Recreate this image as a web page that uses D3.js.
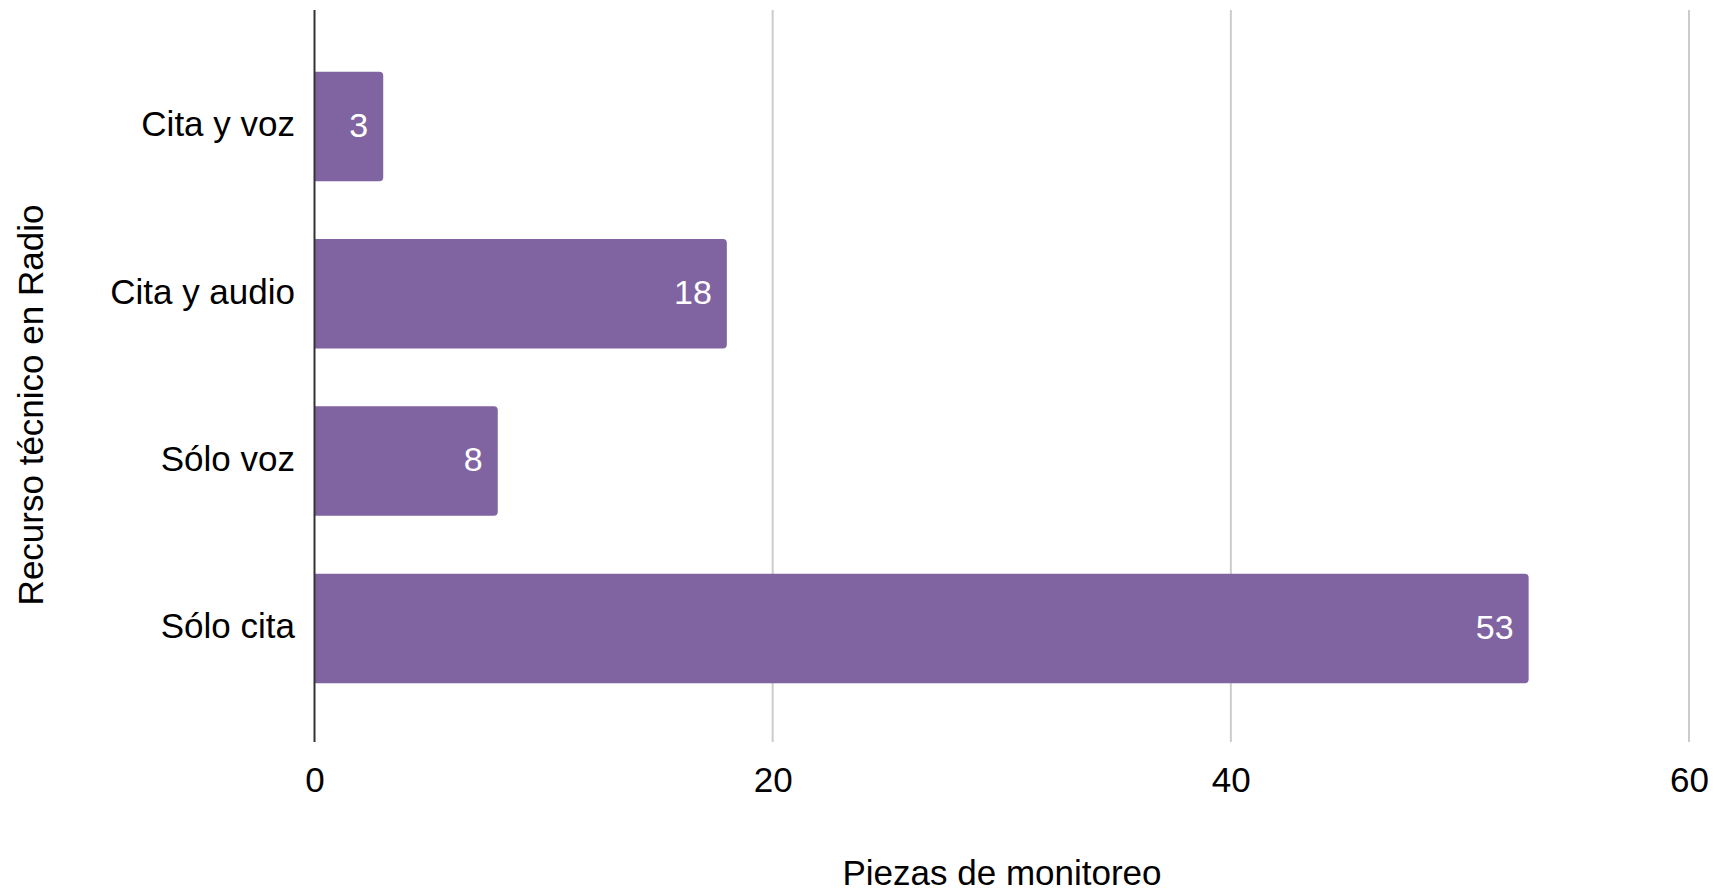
<!DOCTYPE html>
<html>
<head>
<meta charset="utf-8">
<script src="https://cdn.jsdelivr.net/npm/d3@7"></script>
<style>
  html, body { margin: 0; padding: 0; background: #ffffff; }
  svg { display: block; }
  text { font-family: Arial, "Liberation Sans", sans-serif; }
</style>
</head>
<body>
<svg id="chart" width="1715" height="893"></svg>
<script>
const categories = ["Cita y voz", "Cita y audio", "Sólo voz", "Sólo cita"];
const values = [3, 18, 8, 53];
const xTicks = [0, 20, 40, 60];
const xTitle = "Piezas de monitoreo";
const yTitle = "Recurso técnico en Radio";

const svg = d3.select("#chart");
const W = 1715, H = 893;
svg.append("rect").attr("width", W).attr("height", H).attr("fill", "#ffffff");

const plotTop = 10, plotBottom = 742;
const x = d3.scaleLinear().domain([0, 60]).range([314.5, 1689]);
const y = d3.scaleBand().domain(categories).range([42.85, 712.05])
  .paddingInner(0.3455).paddingOuter(0.1727);

// gridlines
svg.append("g").selectAll("line").data(xTicks.filter(d => d !== 0)).join("line")
  .attr("x1", d => x(d)).attr("x2", d => x(d))
  .attr("y1", plotTop).attr("y2", plotBottom)
  .attr("stroke", "#cccccc").attr("stroke-width", 2);

// x tick labels via axis
const xAxis = d3.axisBottom(x).tickValues(xTicks).tickSize(0).tickPadding(0).tickFormat(d3.format("d"));
const gx = svg.append("g").attr("transform", `translate(0,${plotBottom})`).call(xAxis);
gx.select(".domain").remove();
gx.selectAll("text").attr("font-size", 35).attr("fill", "#000").attr("dy", null)
  .attr("y", 50).attr("font-family", "Arial, 'Liberation Sans', sans-serif");

// bars
const barColor = "#8064a2";
svg.append("g").selectAll("path").data(values).join("path")
  .attr("fill", barColor)
  .attr("d", (d, i) => {
    const x0 = x(0), x1 = x(d), y0 = y(categories[i]), h = y.bandwidth(), r = 4;
    return `M${x0},${y0} H${x1 - r} Q${x1},${y0} ${x1},${y0 + r} V${y0 + h - r} Q${x1},${y0 + h} ${x1 - r},${y0 + h} H${x0} Z`;
  });

// baseline axis line at 0
svg.append("line").attr("x1", x(0)).attr("x2", x(0)).attr("y1", plotTop).attr("y2", plotBottom)
  .attr("stroke", "#333333").attr("stroke-width", 2);

// y category labels via axis
const yAxis = d3.axisLeft(y).tickSize(0).tickPadding(0);
const gy = svg.append("g").attr("transform", `translate(295,0)`).call(yAxis);
gy.select(".domain").remove();
gy.selectAll("text").attr("font-size", 35).attr("fill", "#000").attr("x", 0)
  .attr("dy", "0.28em").attr("font-family", "Arial, 'Liberation Sans', sans-serif");

// value labels
svg.append("g").selectAll("text").data(values).join("text")
  .attr("x", d => x(d) - 15)
  .attr("y", (d, i) => y(categories[i]) + y.bandwidth() / 2)
  .attr("dy", "0.3em")
  .attr("text-anchor", "end")
  .attr("font-size", 34)
  .attr("fill", "#ffffff")
  .text(d => d);

// axis titles
svg.append("text").attr("x", 1002).attr("y", 885).attr("text-anchor", "middle")
  .attr("font-size", 35).attr("fill", "#000").text(xTitle);
svg.append("text").attr("transform", "translate(43,405) rotate(-90)").attr("text-anchor", "middle")
  .attr("font-size", 35).attr("fill", "#000").text(yTitle);
</script>
</body>
</html>
